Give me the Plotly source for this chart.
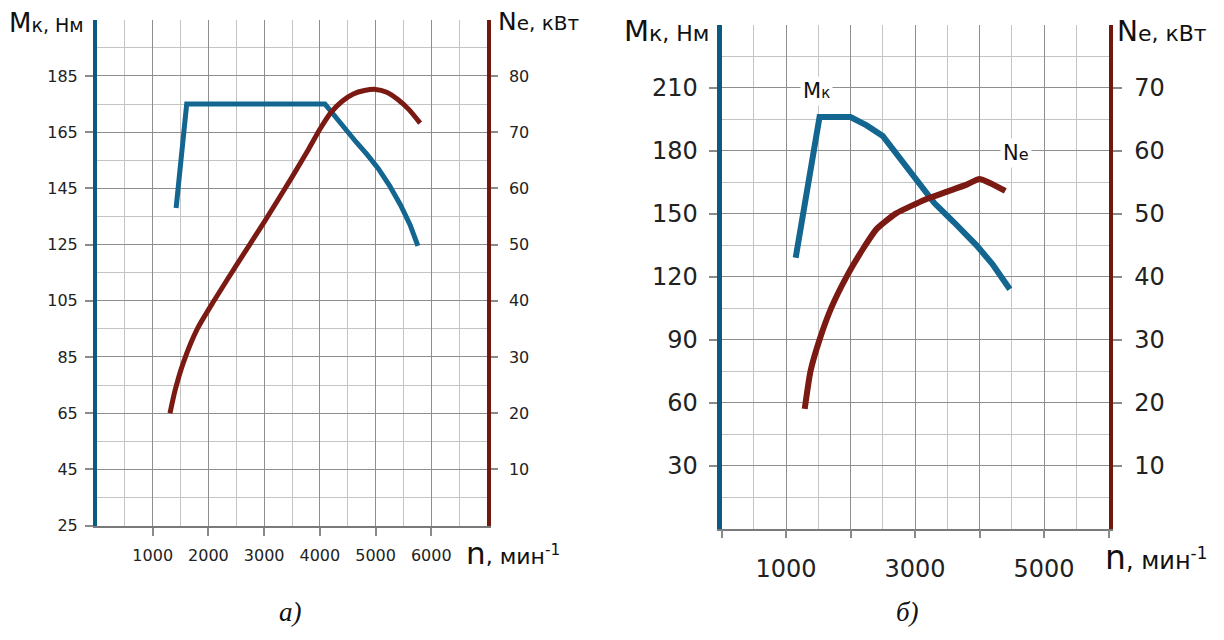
import plotly.graph_objects as go

W, H = 1224, 640

# ---------- data: chart а) ----------
a_mk_n = [1420, 1610, 4090, 4250, 4450, 4650, 4850, 5050, 5250, 5450, 5620, 5760]
a_mk_m = [138, 175, 175, 171, 166, 161.5, 157, 152, 146, 139, 132, 124.5]
a_ne_n = [1310, 1400, 1550, 1800, 2100, 2500, 3000, 3500, 3800, 4000, 4200, 4400, 4600, 4800, 5000, 5200, 5400, 5600, 5800]
a_ne_p = [20, 24, 29, 35, 40, 46.3, 54, 62, 67, 70.5, 73.5, 75.5, 76.8, 77.4, 77.6, 77.1, 75.8, 74, 71.6]
a_x_ticks = [1000, 2000, 3000, 4000, 5000, 6000]
a_yl_ticks = [25, 45, 65, 85, 105, 125, 145, 165, 185]
a_yr_ticks = [10, 20, 30, 40, 50, 60, 70, 80]

# ---------- data: chart б) ----------
b_mk_n = [1150, 1520, 2000, 2250, 2500, 2750, 3000, 3300, 3600, 3950, 4200, 4470]
b_mk_m = [129, 196, 196, 192, 187, 177, 166, 155, 146, 135, 126, 114]
b_ne_n = [1290, 1380, 1530, 1700, 1950, 2200, 2400, 2700, 3000, 3200, 3500, 3800, 4000, 4400]
b_ne_p = [19, 25, 30.3, 35, 40.2, 44.5, 47.5, 50, 51.5, 52.4, 53.5, 54.6, 55.5, 53.6]
b_x_labels = [1000, 3000, 5000]
b_x_marks = [0, 1000, 2000, 3000, 4000, 5000, 6000]
b_yl_ticks = [30, 60, 90, 120, 150, 180, 210]
b_yr_ticks = [10, 20, 30, 40, 50, 60, 70]

BLUE = "#136690"
BLUE_AX = "#0b5a82"
RED = "#7b1a12"
RED_AX = "#72190f"
GRID = "#8e8e8e"
GRID_MINOR = "#c4c4c4"
TICKC = "#8a8a8a"
FONT = "DejaVu Sans"
TFONT = "DejaVu Sans"

def px(x):
    return x / W

def py(y):
    return 1 - y / H

fig = go.Figure()
fig.add_trace(go.Scatter(x=a_mk_n, y=a_mk_m, mode="lines", line=dict(color=BLUE, width=5),
                         xaxis="x", yaxis="y", showlegend=False))
fig.add_trace(go.Scatter(x=a_ne_n, y=a_ne_p, mode="lines", line=dict(color=RED, width=5, shape="spline", smoothing=0.6),
                         xaxis="x", yaxis="y2", showlegend=False))
fig.add_trace(go.Scatter(x=b_mk_n, y=b_mk_m, mode="lines", line=dict(color=BLUE, width=6),
                         xaxis="x2", yaxis="y3", showlegend=False))
fig.add_trace(go.Scatter(x=b_ne_n, y=b_ne_p, mode="lines", line=dict(color=RED, width=6, shape="spline", smoothing=0.5),
                         xaxis="x3", yaxis="y4", showlegend=False))

common_x = dict(showline=True, linecolor="#7a7a7a", linewidth=2, ticks="outside", tickcolor=TICKC,
                tickwidth=1.5, ticklen=8, showgrid=True, gridcolor=GRID, gridwidth=1.2, zeroline=False,
                fixedrange=True)

fig.update_layout(
    width=W, height=H, margin=dict(l=0, r=0, t=0, b=0),
    paper_bgcolor="white", plot_bgcolor="white",
    xaxis=dict(common_x, domain=[px(97), px(487)], range=[0, 7000], anchor="y",
               tickvals=a_x_ticks, tickfont=dict(family=FONT, size=16, color="#222"),
               ticklabelstandoff=6,
               minor=dict(dtick=500, tick0=0, showgrid=True, gridcolor=GRID_MINOR, gridwidth=1.2)),
    yaxis=dict(domain=[py(534), py(20)], range=[25, 205], anchor="x", showline=True, linecolor=BLUE_AX,
               linewidth=4, ticks="outside", tickcolor=TICKC, ticklen=8, tickwidth=1.5,
               tickvals=a_yl_ticks, tickfont=dict(family=FONT, size=16, color="#222"),
               ticklabelstandoff=4, showgrid=True, gridcolor=GRID, gridwidth=1.2, zeroline=False,
               minor=dict(dtick=10, tick0=25, showgrid=True, gridcolor=GRID_MINOR, gridwidth=1.2)),
    yaxis2=dict(overlaying="y", side="right", anchor="x", range=[0, 90], showline=True,
                linecolor=RED_AX, linewidth=3.5, ticks="outside", tickcolor=TICKC, ticklen=7, tickwidth=1.5,
                tickvals=a_yr_ticks, tickfont=dict(family=FONT, size=16, color="#222"),
                ticklabelstandoff=8, showgrid=False, zeroline=False),
    xaxis2=dict(domain=[px(721.5), px(1108.5)], range=[0, 6000], anchor="y3",
                showline=True, linecolor="#7a7a7a", linewidth=2, ticks="", showgrid=True,
                gridcolor=GRID_MINOR, gridwidth=1.2, zeroline=False, fixedrange=True,
                tickvals=b_x_labels, tickfont=dict(family=FONT, size=24, color="#222"),
                ticklabelstandoff=18,
                minor=dict(dtick=500, tick0=0, showgrid=True, gridcolor=GRID_MINOR, gridwidth=1.2)),
    xaxis3=dict(overlaying="x2", anchor="y4", range=[0, 6000], tickvals=b_x_marks, showticklabels=False,
                ticks="outside", ticklen=8, tickcolor=TICKC, tickwidth=1.5, showline=False,
                showgrid=True, gridcolor=GRID, gridwidth=1.2, zeroline=False, fixedrange=True,
                minor=dict(dtick=500, tick0=0, showgrid=True, gridcolor=GRID_MINOR, gridwidth=1.2)),
    yaxis3=dict(domain=[py(537), py(25)], range=[0, 240], anchor="x2", showline=True, linecolor=BLUE_AX,
                linewidth=5, ticks="outside", tickcolor=TICKC, ticklen=8, tickwidth=1.5,
                tickvals=b_yl_ticks, tickfont=dict(family=FONT, size=24, color="#222"),
                ticklabelstandoff=6, showgrid=True, gridcolor=GRID, gridwidth=1.2, zeroline=False,
                minor=dict(dtick=15, tick0=0, showgrid=True, gridcolor=GRID_MINOR, gridwidth=1.2)),
    yaxis4=dict(overlaying="y3", side="right", anchor="x3", range=[0, 80], showline=True,
                linecolor=RED_AX, linewidth=4, ticks="outside", tickcolor=TICKC, ticklen=9, tickwidth=1.5,
                tickvals=b_yr_ticks, tickfont=dict(family=FONT, size=24, color="#222"),
                ticklabelstandoff=8, showgrid=False, zeroline=False),
)

def ann(x, y, text, xanchor="center", yanchor="middle", size=18, family=TFONT, bg=None, color="#111"):
    d = dict(x=px(x), y=py(y), xref="paper", yref="paper", text=text, showarrow=False,
             xanchor=xanchor, yanchor=yanchor, font=dict(family=family, size=size, color=color))
    if bg:
        d.update(bgcolor=bg, borderpad=2)
    fig.add_annotation(**d)

# axis titles – chart а)
ann(86, 23, "M<span style='font-size:19px'>к, Нм</span>", xanchor="right", size=26)
ann(496, 22, "N<span style='font-size:20px'>е, кВт</span>", xanchor="left", size=25)
ann(464, 562, "n<span style='font-size:22px'>, мин<sup>-1</sup></span>", xanchor="left", size=31)
# axis titles – chart б)
ann(711, 31, "M<span style='font-size:22px'>к, Нм</span>", xanchor="right", size=29)
ann(1115, 32, "N<span style='font-size:22px'>е, кВт</span>", xanchor="left", size=28)
ann(1103, 566, "n<span style='font-size:24px'>, мин<sup>-1</sup></span>", xanchor="left", size=33)
# curve labels – chart б)
ann(816, 92, "M<span style='font-size:15px'>к</span>", size=21, bg="white")
ann(1016, 155, "N<span style='font-size:16px'>e</span>", size=21, bg="white")
# sub-captions
ann(290, 622, "<i>а)</i>", size=27, family="Liberation Serif")
ann(907, 622, "<i>б)</i>", size=27, family="Liberation Serif")

fig.write_html("out.html")
